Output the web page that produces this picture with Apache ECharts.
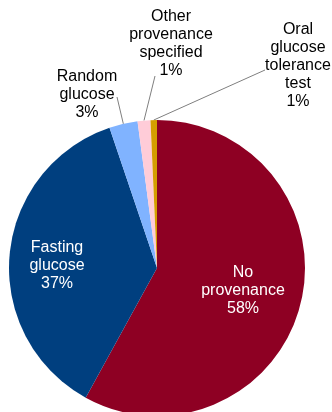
<!DOCTYPE html>
<html>
<head>
<meta charset="utf-8">
<script src="https://cdn.jsdelivr.net/npm/echarts@6/dist/echarts.min.js"></script>
<style>
  html, body { margin: 0; padding: 0; background: #fff; }
  #chart { width: 332px; height: 412px; }
</style>
</head>
<body>
<div id="chart"></div>
<script>
// slices, clockwise from 12 o'clock
const names = ["No provenance", "Fasting glucose", "Random glucose", "Other provenance specified", "Oral glucose tolerance test"];
const labelNames = ["No\nprovenance", "Fasting\nglucose", "Random\nglucose", "Other\nprovenance\nspecified", "Oral\nglucose\ntolerance\ntest"];
const values = [58.0, 36.8, 3.1, 1.4, 0.7];
const colors = ["#8e0023", "#003f7f", "#80b3ff", "#ffccd8", "#d49e00"];

// where each label block sits (centre), px
const labelPos = [[243, 291], [57, 266], [87, 95], [171, 44], [298, 66]];
// where the leader line meets the label, relative to its centre
const lineEnd = [null, null, [30, 2], [-16, 32], [-33, 4]];

const chart = echarts.init(document.getElementById("chart"));

const data = values.map((v, i) => {
  const inside = i < 2;
  return {
    name: names[i],
    value: v,
    itemStyle: { color: colors[i] },
    label: {
      position: inside ? "inside" : "outside",
      color: inside ? "#ffffff" : "#000000",
    },
    labelLine: { show: !inside },
  };
});

chart.setOption({
  animation: false,
  series: [
    {
      type: "pie",
      center: [157, 268],
      radius: 148,
      startAngle: 90,
      clockwise: true,
      percentPrecision: 0,
      avoidLabelOverlap: false,
      data: data,
      label: {
        fontFamily: "Liberation Sans, Arial, sans-serif",
        fontSize: 16,
        lineHeight: 18,
        align: "center",
        formatter: (p) => labelNames[p.dataIndex] + "\n" + Math.round(p.percent) + "%",
      },
      labelLine: {
        length: 10,
        length2: 10,
        smooth: false,
        lineStyle: { color: "#7f7f7f", width: 1 },
      },
      labelLayout: (params) => {
        const i = params.dataIndex;
        const p = labelPos[i];
        const out = { x: p[0], y: p[1], align: "center", verticalAlign: "middle", moveOverlap: null };
        if (lineEnd[i] && params.labelLinePoints) {
          const start = params.labelLinePoints[0];
          const end = [p[0] + lineEnd[i][0], p[1] + lineEnd[i][1]];
          out.labelLinePoints = [start, end, end];
        }
        return out;
      },
      emphasis: { disabled: true },
    },
  ],
});
</script>
</body>
</html>
